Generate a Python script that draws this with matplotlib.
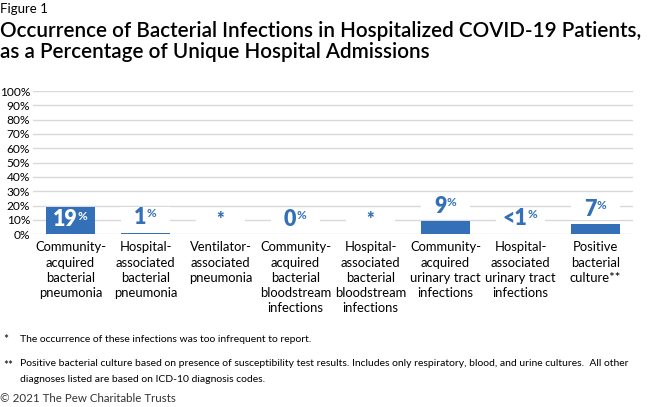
import numpy as np
import matplotlib.pyplot as plt

plt.rcParams['font.family'] = ['Lato', 'DejaVu Sans']

# data
categories = ['Community-\nacquired\nbacterial\npneumonia',
              'Hospital-\nassociated\nbacterial\npneumonia',
              'Ventilator-\nassociated\npneumonia',
              'Community-\nacquired\nbacterial\nbloodstream\ninfections',
              'Hospital-\nassociated\nbacterial\nbloodstream\ninfections',
              'Community-\nacquired\nurinary tract\ninfections',
              'Hospital-\nassociated\nurinary tract\ninfections',
              'Positive\nbacterial\nculture**']
values = [19, 1, 0, 0, 0, 9, 0.3, 7]
value_labels = ['19', '1', '*', '0', '*', '9', '<1', '7']
show_pct = [True, True, False, True, False, True, True, True]
inside = [True, False, False, False, False, False, False, False]

blue = '#3370b8'
grid_c = '#d9d9d9'

fig = plt.figure(figsize=(6.5, 4.07), dpi=100)
ax = fig.add_axes([33/650, 1 - 234.3/407, 600/650, 143.3/407])

x = np.arange(len(categories))
w = 0.65
ax.bar(x, values, width=w, color=blue, zorder=3)

ax.set_ylim(0, 100)
ax.set_xlim(-0.5, len(categories) - 0.5)
ax.set_yticks(np.arange(0, 101, 10))
ax.set_yticklabels([f'{v}%' for v in range(0, 101, 10)], fontsize=8.6)
ax.yaxis.grid(True, color=grid_c, linewidth=1)
ax.set_axisbelow(True)
ax.tick_params(axis='y', length=0, pad=2)
ax.set_xticks(x)
ax.set_xticklabels(categories, fontsize=9.4, linespacing=1.33, va='top')
ax.tick_params(axis='x', length=0, pad=5)
for s in ax.spines.values():
    s.set_visible(False)

# value labels
for i, (v, lab) in enumerate(zip(values, value_labels)):
    if inside[i]:
        ly = v - 9
        col = 'white'
    else:
        ly = v + 10.5
        col = blue
        # white patch behind label to break the gridlines
        ax.bar(x[i], 15, bottom=ly - 7.5, width=w, color='white', zorder=2)
    dx = -0.07 if show_pct[i] else 0
    fsz = 15.5 if show_pct[i] else 13
    t = ax.text(x[i] + dx, ly, lab, ha='center', va='center', color=col,
                fontsize=fsz, fontweight='heavy', zorder=4)
    if show_pct[i]:
        ax.annotate('%', xy=(1, 0.95), xycoords=t, xytext=(-0.3, 0),
                    textcoords='offset points', ha='left', va='top',
                    color=col, fontsize=8.5, fontweight='bold', zorder=4)

# titles
fig.text(0, 1 - 9/407, 'Figure 1', fontsize=9.5, va='center', ha='left')
fig.text(0, 1 - 31/407, 'Occurrence of Bacterial Infections in Hospitalized COVID-19 Patients,',
         fontsize=14.9, va='center', ha='left', fontweight='semibold')
fig.text(0, 1 - 52/407, 'as a Percentage of Unique Hospital Admissions',
         fontsize=14.9, va='center', ha='left', fontweight='semibold')

# footnotes
fs = 7.5
fig.text(3/650, 1 - 340/407, '*', fontsize=8.5, va='center')
fig.text(20/650, 1 - 339/407, 'The occurrence of these infections was too infrequent to report.',
         fontsize=fs, va='center')
fig.text(3/650, 1 - 365/407, '**', fontsize=8.5, va='center')
fig.text(20/650, 1 - 364/407,
         'Positive bacterial culture based on presence of susceptibility test results. '
         'Includes only respiratory, blood, and urine cultures.  All other',
         fontsize=fs, va='center')
fig.text(20/650, 1 - 380/407, 'diagnoses listed are based on ICD-10 diagnosis codes.',
         fontsize=fs, va='center')
fig.text(0, 1 - 398/407, '\u00a9 2021 The Pew Charitable Trusts', fontsize=8.3, va='center',
         color='#333333')

fig.savefig('out.png', dpi=100)
